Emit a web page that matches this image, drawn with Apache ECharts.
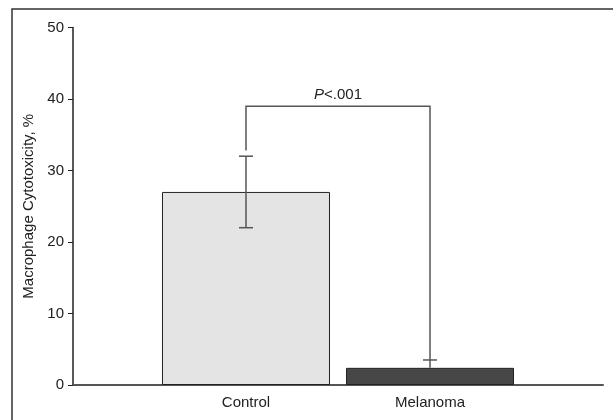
<!DOCTYPE html>
<html><head><meta charset="utf-8">
<script src="https://cdn.jsdelivr.net/npm/echarts@6/dist/echarts.min.js"></script>
<style>html,body{margin:0;padding:0;background:#fff}#c{width:613px;height:420px}</style>
</head><body><div id="c"></div>
<script>
const categories = ['Control', 'Melanoma'];
const positions = [1, 2];
const means = [27, 2.4];
const errUpper = [32, 3.5];
const errLower = [22, null];
const bracketTop = 39;
const bracketStart = [32.8, 3.5];
const pLabel = ['P', '<.001'];
const yTicks = [0, 10, 20, 30, 40, 50];
const yTitle = 'Macrophage Cytotoxicity, %';

const FONT = "'Liberation Sans Narrow', 'Arial Narrow', 'Liberation Sans', Arial, sans-serif";
const chart = echarts.init(document.getElementById('c'), null, {renderer: 'canvas'});

const option = {
  backgroundColor: '#fff',
  animation: false,
  graphic: [{
    type: 'rect', left: 9.5, top: 6.5, z: -10,
    shape: {width: 640, height: 450},
    style: {fill: 'none', stroke: '#333', lineWidth: 1.5}
  }],
  grid: {left: 73, right: 10, top: 27.5, bottom: 35, containLabel: false},
  xAxis: {
    type: 'value', min: 0.06, max: 2.94,
    axisLine: {show: true, onZero: false, lineStyle: {color: '#555', width: 2}},
    axisTick: {show: false},
    splitLine: {show: false},
    axisLabel: {
      customValues: positions,
      formatter: v => categories[positions.indexOf(Math.round(v))] || '',
      color: '#222', fontFamily: FONT, fontSize: 15, margin: 10
    }
  },
  yAxis: {
    type: 'value', min: yTicks[0], max: yTicks[yTicks.length - 1], interval: 10,
    name: yTitle, nameLocation: 'middle', nameGap: 37,
    nameTextStyle: {color: '#222', fontFamily: FONT, fontSize: 15},
    axisLine: {show: true, lineStyle: {color: '#222', width: 1.5}},
    axisTick: {show: true, length: 5, lineStyle: {color: '#222', width: 1}},
    splitLine: {show: false},
    axisLabel: {color: '#222', fontFamily: FONT, fontSize: 15, margin: 9}
  },
  series: [
    {
      type: 'bar', barWidth: 168, z: 2,
      data: positions.map((p, i) => ({
        value: [p, means[i]],
        itemStyle: {color: i === 0 ? '#e4e4e4' : '#474747', borderColor: '#222', borderWidth: 1}
      }))
    },
    {
      type: 'custom', z: 5,
      data: positions.map((p, i) => [p, errUpper[i], errLower[i] == null ? means[i] : errLower[i], errLower[i] == null ? 0 : 1]),
      renderItem: (params, api) => {
        const x = api.value(0);
        const top = api.coord([x, api.value(1)]);
        const bot = api.coord([x, api.value(2)]);
        const h = 7;
        const st = {stroke: '#555', lineWidth: 1.5};
        const ch = [
          {type: 'line', shape: {x1: top[0], y1: top[1], x2: bot[0], y2: bot[1]}, style: st},
          {type: 'line', shape: {x1: top[0] - h, y1: top[1], x2: top[0] + h, y2: top[1]}, style: st}
        ];
        if (api.value(3)) ch.push({type: 'line', shape: {x1: bot[0] - h, y1: bot[1], x2: bot[0] + h, y2: bot[1]}, style: st});
        return {type: 'group', children: ch};
      }
    },
    {
      type: 'custom', z: 5,
      data: [[positions[0], positions[1], bracketTop, bracketStart[0], bracketStart[1]]],
      renderItem: (params, api) => {
        const a = api.coord([api.value(0), api.value(3)]);
        const b = api.coord([api.value(0), api.value(2)]);
        const c = api.coord([api.value(1), api.value(2)]);
        const d = api.coord([api.value(1), api.value(4)]);
        return {type: 'group', children: [
          {type: 'polyline', shape: {points: [a, b, c, d]}, style: {stroke: '#555', lineWidth: 1.5, fill: 'none'}},
          {type: 'text', x: (b[0] + c[0]) / 2, y: b[1] - 4,
           style: {text: '{i|' + pLabel[0] + '}{n|' + pLabel[1] + '}', align: 'center', verticalAlign: 'bottom',
             rich: {i: {fontStyle: 'italic', fontFamily: FONT, fontSize: 15, fill: '#222'},
                    n: {fontFamily: FONT, fontSize: 15, fill: '#222'}}}}
        ]};
      }
    }
  ]
};
chart.setOption(option);
</script></body></html>
